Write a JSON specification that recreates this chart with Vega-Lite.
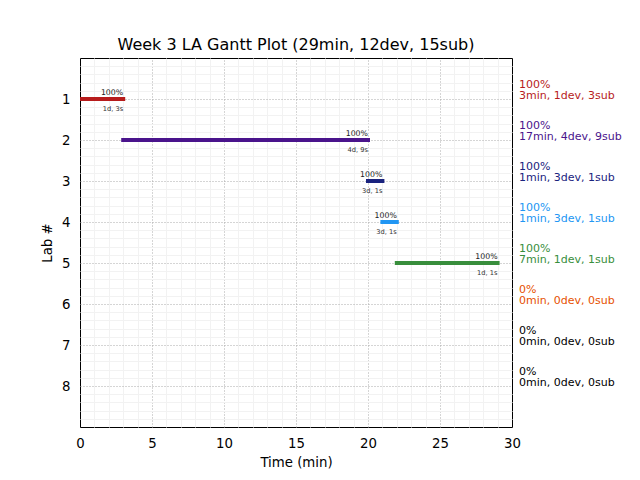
{
  "$schema": "https://vega.github.io/schema/vega-lite/v6.json",
  "width": 432,
  "height": 369,
  "autosize": {"type": "none"},
  "padding": {"left": 80, "top": 58, "right": 128, "bottom": 53},
  "view": {"stroke": "black", "strokeWidth": 1},
  "title": {"text": "Week 3 LA Gantt Plot (29min, 12dev, 15sub)", "fontSize": 16, "fontWeight": "normal", "font": "DejaVu Sans", "color": "black", "anchor": "middle", "baseline": "alphabetic", "offset": -15},
  "config": {
    "font": "DejaVu Sans",
    "view": {"stroke": "black", "strokeWidth": 1},
    "axis": {"domain": false, "ticks": false, "labelFont": "DejaVu Sans", "labelFontSize": 13.3, "labelColor": "black", "titleFont": "DejaVu Sans", "titleFontSize": 13.3, "titleFontWeight": "normal", "titleColor": "black"}
  },
  "data": {"values": [
    {"lab": 1, "start": 0, "end": 3, "pct": "100%", "stats": "3min, 1dev, 3sub", "sub": "1d, 3s"},
    {"lab": 2, "start": 3, "end": 20, "pct": "100%", "stats": "17min, 4dev, 9sub", "sub": "4d, 9s"},
    {"lab": 3, "start": 20, "end": 21, "pct": "100%", "stats": "1min, 3dev, 1sub", "sub": "3d, 1s"},
    {"lab": 4, "start": 21, "end": 22, "pct": "100%", "stats": "1min, 3dev, 1sub", "sub": "3d, 1s"},
    {"lab": 5, "start": 22, "end": 29, "pct": "100%", "stats": "7min, 1dev, 1sub", "sub": "1d, 1s"},
    {"lab": 6, "start": null, "end": null, "pct": "0%", "stats": "0min, 0dev, 0sub", "sub": ""},
    {"lab": 7, "start": null, "end": null, "pct": "0%", "stats": "0min, 0dev, 0sub", "sub": ""},
    {"lab": 8, "start": null, "end": null, "pct": "0%", "stats": "0min, 0dev, 0sub", "sub": ""}
  ]},
  "resolve": {"axis": {"x": "independent", "y": "independent"}},
  "layer": [
    {
      "transform": [{"filter": "isValid(datum.end)"}],
      "mark": {"type": "rule", "strokeWidth": 4, "strokeCap": "square", "clip": true},
      "encoding": {
        "x": {"field": "start", "type": "quantitative", "scale": {"domain": [0, 30], "nice": false, "zero": false},
          "axis": {
            "values": [0, 1, 2, 3, 4, 5, 6, 7, 8, 9, 10, 11, 12, 13, 14, 15, 16, 17, 18, 19, 20, 21, 22, 23, 24, 25, 26, 27, 28, 29, 30],
            "labelExpr": "datum.value % 5 == 0 ? format(datum.value, 'd') : ''",
            "grid": true,
            "gridColor": {"condition": {"test": "datum.value % 5 == 0", "value": "#aaaaaa"}, "value": "#f2f2f2"},
            "gridDash": {"condition": {"test": "datum.value % 5 == 0", "value": [1, 2]}, "value": []},
            "gridOpacity": {"condition": {"test": "datum.value == 0 || datum.value == 30", "value": 0}, "value": 1},
            "labelPadding": 9, "labelFlush": false, "labelOverlap": false, "title": "Time (min)", "titlePadding": 6}},
        "x2": {"field": "end"},
        "y": {"field": "lab", "type": "quantitative", "scale": {"domain": [0, 9], "reverse": true, "nice": false, "zero": false},
          "axis": {
            "values": [0, 0.2, 0.4, 0.6, 0.8, 1, 1.2, 1.4, 1.6, 1.8, 2, 2.2, 2.4, 2.6, 2.8, 3, 3.2, 3.4, 3.6, 3.8, 4, 4.2, 4.4, 4.6, 4.8, 5, 5.2, 5.4, 5.6, 5.8, 6, 6.2, 6.4, 6.6, 6.8, 7, 7.2, 7.4, 7.6, 7.8, 8, 8.2, 8.4, 8.6, 8.8, 9],
            "labelExpr": "(datum.value % 1 == 0 && datum.value >= 1 && datum.value <= 8) ? format(datum.value, 'd') : ''",
            "grid": true,
            "gridColor": {"condition": {"test": "datum.value % 1 == 0", "value": "#aaaaaa"}, "value": "#f2f2f2"},
            "gridDash": {"condition": {"test": "datum.value % 1 == 0", "value": [1, 2]}, "value": []},
            "gridOpacity": {"condition": {"test": "datum.value == 0 || datum.value == 9", "value": 0}, "value": 1},
            "labelPadding": 10, "labelOverlap": false, "labelFlush": false, "title": "Lab #", "titlePadding": 7}},
        "color": {"field": "lab", "type": "nominal", "scale": {"domain": [1, 2, 3, 4, 5, 6, 7, 8], "range": ["#b71c1c", "#4a148c", "#1a237e", "#2196f3", "#388e3c", "#e65100", "#000000", "#000000"]}, "legend": null}
      }
    },
    {
      "transform": [{"filter": "isValid(datum.end)"}],
      "mark": {"type": "text", "align": "right", "baseline": "alphabetic", "dy": -4, "fontSize": 7.8, "color": "#222222"},
      "encoding": {
        "x": {"field": "end", "type": "quantitative", "axis": null},
        "y": {"field": "lab", "type": "quantitative", "axis": null},
        "text": {"field": "pct"}
      }
    },
    {
      "transform": [{"filter": "isValid(datum.end)"}],
      "mark": {"type": "text", "align": "right", "baseline": "alphabetic", "dy": 12, "fontSize": 6.7, "color": "#333333"},
      "encoding": {
        "x": {"field": "end", "type": "quantitative", "axis": null},
        "y": {"field": "lab", "type": "quantitative", "axis": null},
        "text": {"field": "sub"}
      }
    },
    {
      "mark": {"type": "text", "align": "left", "baseline": "alphabetic", "dx": 7, "dy": -11.5, "fontSize": 11},
      "encoding": {
        "x": {"datum": 30, "type": "quantitative", "axis": null},
        "y": {"field": "lab", "type": "quantitative", "axis": null},
        "color": {"field": "lab", "type": "nominal", "legend": null},
        "text": {"field": "pct"}
      }
    },
    {
      "mark": {"type": "text", "align": "left", "baseline": "alphabetic", "dx": 7, "dy": 0, "fontSize": 11},
      "encoding": {
        "x": {"datum": 30, "type": "quantitative", "axis": null},
        "y": {"field": "lab", "type": "quantitative", "axis": null},
        "color": {"field": "lab", "type": "nominal", "legend": null},
        "text": {"field": "stats"}
      }
    }
  ]
}
